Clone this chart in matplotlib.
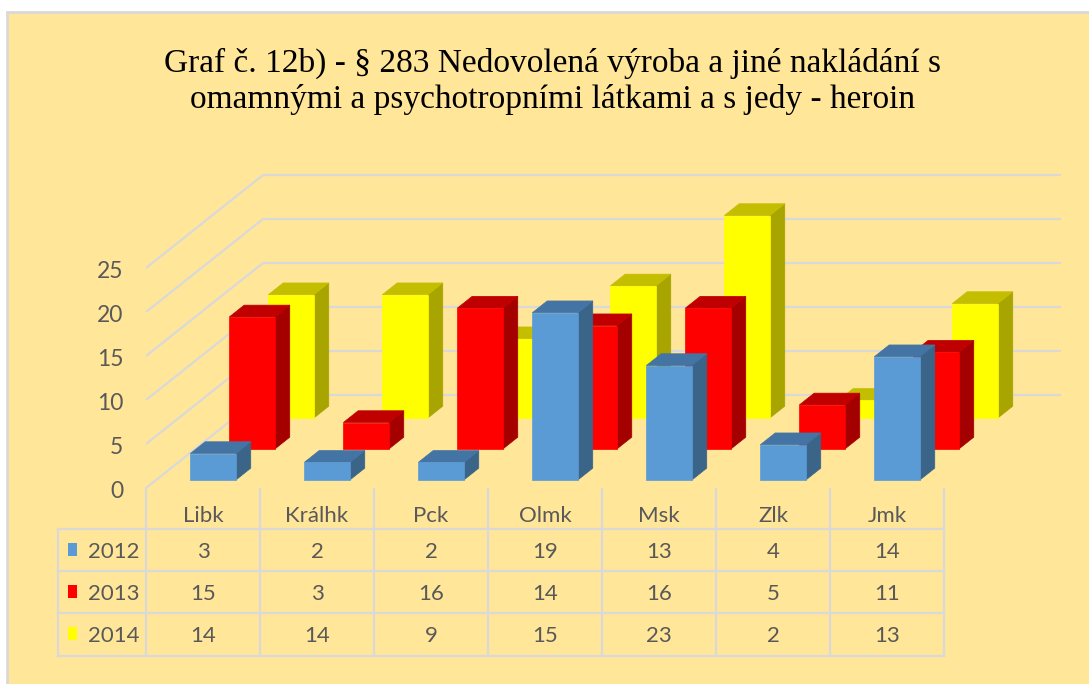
import matplotlib
matplotlib.use('Agg')
import matplotlib.pyplot as plt
from matplotlib.patches import Polygon, Rectangle
from matplotlib.transforms import Affine2D, blended_transform_factory

# ---------------- data ----------------
categories = ['Libk', 'Králhk', 'Pck', 'Olmk', 'Msk', 'Zlk', 'Jmk']
years = ['2012', '2013', '2014']
v2012 = [3, 2, 2, 19, 13, 4, 14]
v2013 = [15, 3, 16, 14, 16, 5, 11]
v2014 = [14, 14, 9, 15, 23, 2, 13]
yticks = [0, 5, 10, 15, 20, 25]
title = ('Graf č. 12b) - § 283 Nedovolená výroba a jiné nakládání s\n'
         'omamnými a psychotropními látkami a s jedy - heroin')

series = [v2012, v2013, v2014]
front_c = ['#5B9BD5', '#FF0000', '#FFFF00']
top_c = ['#4374A4', '#C00000', '#C4BE00']
side_c = ['#3A6589', '#A40000', '#A8A400']

# ---------------- figure ----------------
W, H = 1089, 684
fig = plt.figure(figsize=(W / 100, H / 100), dpi=100)
fig.patch.set_facecolor('white')
ax = fig.add_axes([0, 0, 1, 1])
ax.axis('off')

X0, Y0 = 146, 488      # pixel of front-left floor corner
SX, SY = 114, 8.8      # pixels per category / per unit
ax.set_xlim(-X0 / SX, (W - X0) / SX)
ax.set_ylim((Y0 - H) / SY, Y0 / SY)
KX, KY = 39 / SX, 31 / SY   # oblique offset per depth slot
NS = len(series)
NC = len(categories)


def P(x, v, z):
    return (x + KX * z, v + KY * z)


pix = Affine2D().scale(1, -1).translate(0, H)          # top-left pixel coords
bt = blended_transform_factory(ax.transData, pix)       # x data, y pixel

GRID = '#D9D9D9'
TXT = '#595959'
FONT = 'Lato'

# background panel
ax.add_patch(Rectangle((7, 12), W, H, transform=pix, facecolor='#FFE699',
                       edgecolor='#D9D9D9', lw=2, zorder=0))

# title (baseline of the last line)
fig.text(553 / W, 1 - 108 / H, title, ha='center', va='baseline',
         family='Liberation Serif', fontsize=24, color='black',
         linespacing=1.22)

# gridlines: side wall + back wall
for v in yticks:
    a = P(0, v, 0)
    b = P(0, v, NS)
    c = P(NC, v, NS)
    ax.plot([a[0], b[0], c[0]], [a[1], b[1], c[1]], color=GRID, lw=1.6,
            zorder=1, solid_capstyle='butt')
    ax.text(a[0] - 0.2, v, str(v), ha='right', va='baseline', color=TXT,
            family=FONT, fontsize=16.5,
            transform=ax.transData + Affine2D().translate(0, -10))

# bars
bw, zoff, zd = 0.40, 0.26, 0.38
for s in range(NS - 1, -1, -1):
    z0 = s + zoff
    z1 = z0 + zd
    for i, h in enumerate(series[s]):
        x0 = i + 0.5 - bw / 2
        x1 = i + 0.5 + bw / 2
        zo = 2 + (NS - s)
        side = [P(x1, 0, z0), P(x1, h, z0), P(x1, h, z1), P(x1, 0, z1)]
        topf = [P(x0, h, z0), P(x1, h, z0), P(x1, h, z1), P(x0, h, z1)]
        frnt = [P(x0, 0, z0), P(x1, 0, z0), P(x1, h, z0), P(x0, h, z0)]
        ax.add_patch(Polygon(side, closed=True, facecolor=side_c[s],
                             edgecolor=side_c[s], lw=0.5, zorder=zo))
        ax.add_patch(Polygon(topf, closed=True, facecolor=top_c[s],
                             edgecolor=top_c[s], lw=0.5, zorder=zo))
        ax.add_patch(Polygon(frnt, closed=True, facecolor=front_c[s],
                             edgecolor=front_c[s], lw=0.5, zorder=zo))

# data table
xL = -(X0 - 58) / SX
row_lines = [529, 571, 613, 656]
row_base = [558, 600, 642]
for i in range(NC + 1):
    ax.plot([i, i], [Y0 + 1, row_lines[-1]], color=GRID, lw=1.6, transform=bt,
            zorder=1)
ax.plot([xL, xL], [row_lines[0], row_lines[-1]], color=GRID, lw=1.6,
        transform=bt, zorder=1)
for y in row_lines:
    ax.plot([xL, NC], [y, y], color=GRID, lw=1.6, transform=bt, zorder=1)
for i, c in enumerate(categories):
    ax.text(i + 0.5, 522, c, ha='center', va='baseline', color=TXT,
            family=FONT, fontsize=16, transform=bt)
for s in range(NS):
    for i, h in enumerate(series[s]):
        ax.text(i + 0.5, row_base[s], str(h), ha='center', va='baseline',
                color=TXT, family=FONT, fontsize=16, transform=bt)
    ax.add_patch(Rectangle((68, row_base[s] - 15), 9, 13, transform=pix,
                           facecolor=front_c[s], edgecolor='none', zorder=3))
    ax.text(88, row_base[s], years[s], ha='left', va='baseline', color=TXT,
            family=FONT, fontsize=16, transform=pix)

fig.savefig('out.png', dpi=100)
